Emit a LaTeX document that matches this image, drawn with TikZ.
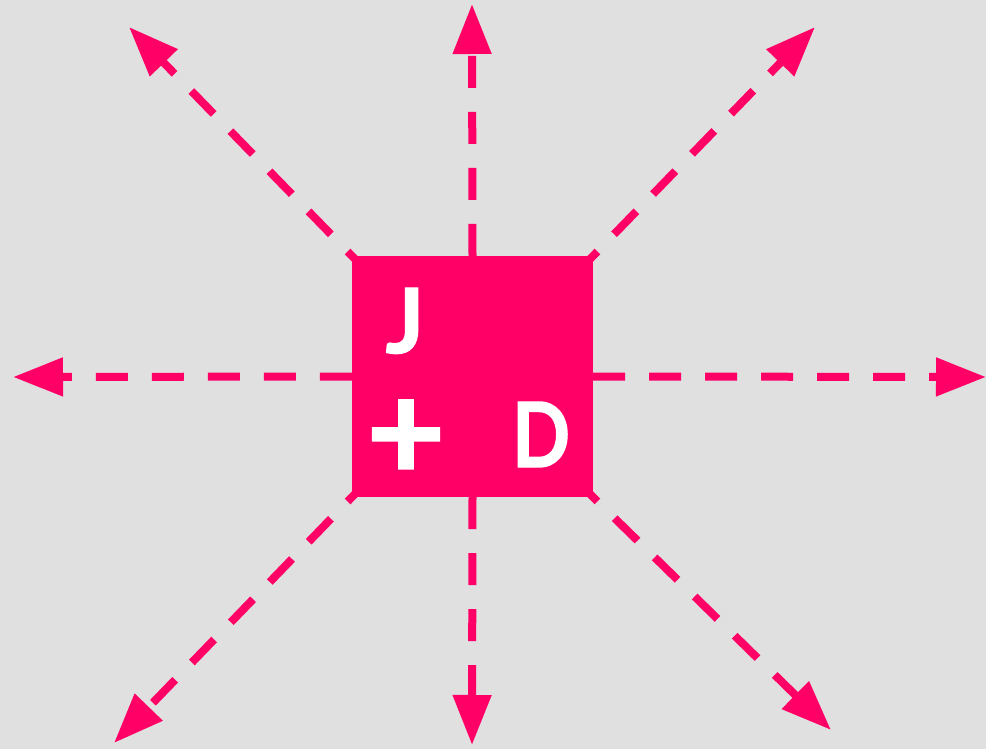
\documentclass[tikz,border=0pt]{standalone}
\usepackage{fontspec}
\setmainfont{Lato}
\newfontfamily\letrafont{Lato}[BoldFeatures={FakeBold=1.5}]
\definecolor{rosaJD}{HTML}{FF0066}
\definecolor{grisFondo}{HTML}{E0E0E0}
\usetikzlibrary{arrows.meta}
\pgfdeclarelayer{fondo}
\pgfsetlayers{fondo,main}

\begin{document}
\begin{tikzpicture}[x=1pt,y=-1pt,
        caja/.style={rectangle,fill=rosaJD,minimum size=241pt,inner sep=0pt},
        letra/.style={text=white,inner sep=0pt,anchor=base,
                      font=\letrafont\fontsize{90}{90}\selectfont\bfseries},
        flecha/.style={-{Triangle[length=50pt,width=37pt]},rosaJD,
                       line width=8pt,dash pattern=on 32pt off 24pt},
        diag/.style={flecha,shorten <=-26pt}]
        \useasboundingbox (0,0) rectangle (986,749);
        \node[caja] (sq) at (472.5,376.5) {};
        \node[letra] (jl) at (405,353) {J};
        \node[letra,font=\letrafont\fontsize{136}{136}\selectfont\bfseries] (plus) at (406,480) {+};
        \node[letra,xscale=0.85] (dl) at (541,467) {D};
        \coordinate (tN)  at (472,4);
        \coordinate (tS)  at (472,745);
        \coordinate (tW)  at (13,377);
        \coordinate (tE)  at (986,377);
        \coordinate (tNW) at (129,27);
        \coordinate (tNE) at (815,27);
        \coordinate (tSW) at (114,743);
        \coordinate (tSE) at (831,730);
        \begin{pgfonlayer}{fondo}
        \fill[grisFondo] (0,0) rectangle (986,749);
        \draw[flecha] (sq.north) -- (tN);
        \draw[flecha] (sq.south) -- (tS);
        \draw[flecha] (sq.west)  -- (tW);
        \draw[flecha] (sq.east)  -- (tE);
        \draw[diag] (sq.north west) -- (tNW);
        \draw[diag] (sq.north east) -- (tNE);
        \draw[diag] (sq.south west) -- (tSW);
        \draw[diag] (sq.south east) -- (tSE);
        \end{pgfonlayer}
\end{tikzpicture}
\end{document}
